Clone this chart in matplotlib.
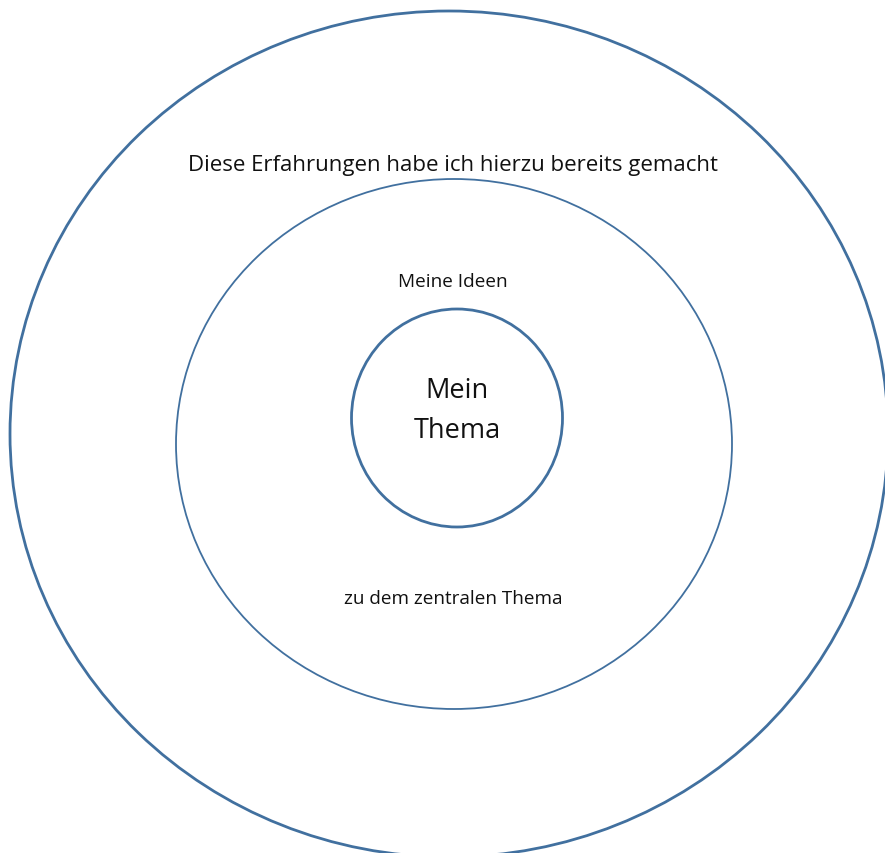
import matplotlib
matplotlib.use("Agg")
import matplotlib.pyplot as plt
from matplotlib.patches import Ellipse

W, H = 885, 854
ring_labels = ["Diese Erfahrungen habe ich hierzu bereits gemacht", "Meine Ideen", "zu dem zentralen Thema"]
center_label = "Mein\nThema"

# ellipses: (cx, cy, width, height, linewidth)
rings = [
    (449, 435, 878, 846, 2.0),
    (454, 445, 556, 530, 1.3),
    (457, 419, 211, 218, 2.0),
]
color = "#41709F"

fig = plt.figure(figsize=(W / 100, H / 100), dpi=100)
ax = fig.add_axes([0, 0, 1, 1])
ax.set_xlim(0, W)
ax.set_ylim(H, 0)
ax.axis("off")

for cx, cy, w, h, lw in rings:
    ax.add_patch(Ellipse((cx, cy), w, h, fill=False, edgecolor=color, linewidth=lw))

font = ["Open Sans", "DejaVu Sans"]
ax.text(453, 165, ring_labels[0], ha="center", va="center", fontsize=16, family=font, color="#111111")
ax.text(453, 282, ring_labels[1], ha="center", va="center", fontsize=13.7, family=font, color="#111111")
ax.text(453, 599, ring_labels[2], ha="center", va="center", fontsize=13.6, family=font, color="#111111")
ax.text(457, 411, center_label, ha="center", va="center", fontsize=19.5, family=font, color="#111111", linespacing=1.6)

fig.savefig("out.png", dpi=100)
